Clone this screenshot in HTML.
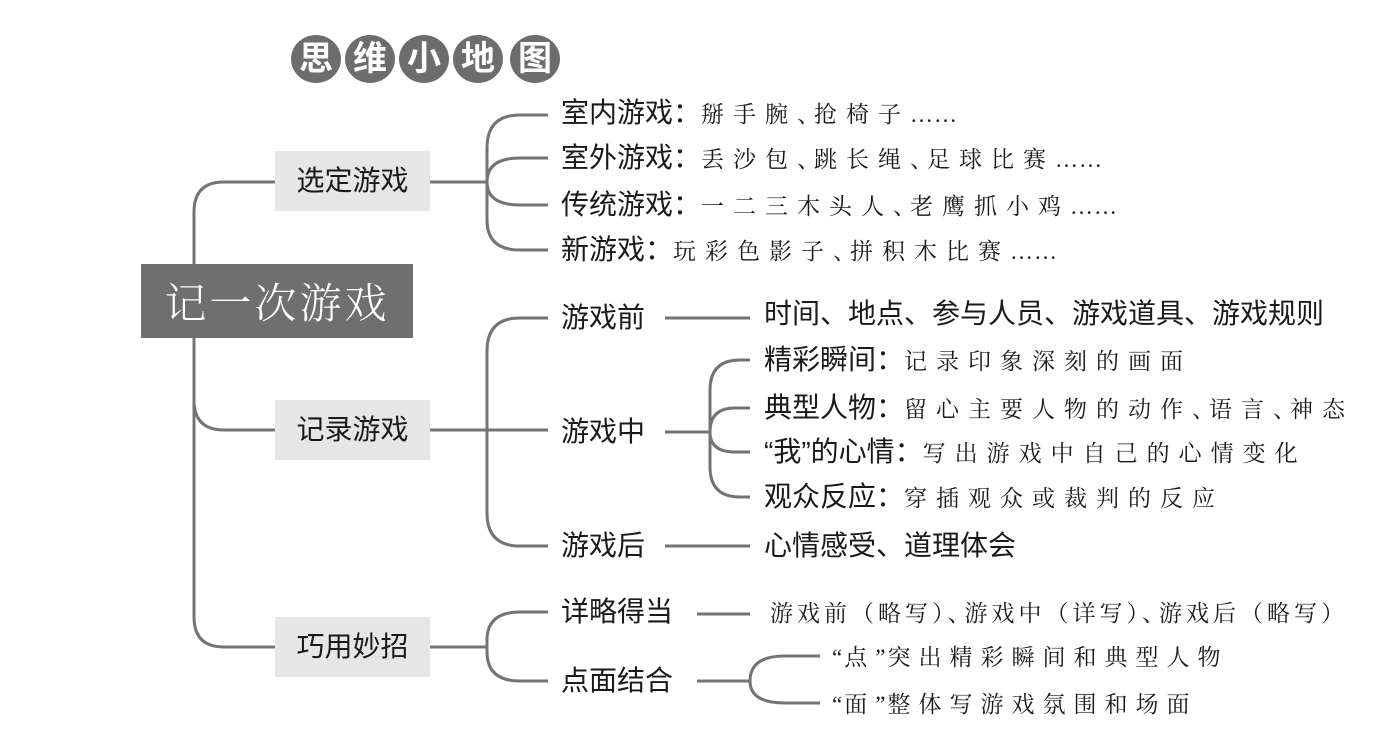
<!DOCTYPE html>
<html><head><meta charset="utf-8"><style>
body{margin:0;width:1388px;height:740px;background:#fff;position:relative;overflow:hidden;font-family:"Liberation Sans","Noto Sans CJK SC",sans-serif;color:#1a1a1a}
.t{position:absolute;white-space:nowrap;font-size:28px;line-height:30px;font-weight:400}
.s{font-family:"Noto Serif CJK SC",serif;font-size:23px;letter-spacing:9px;font-weight:400}
.p{letter-spacing:-6px}
.e{font-family:"Liberation Serif",serif;letter-spacing:1px}
.q{font-family:"Liberation Serif",serif;letter-spacing:2px}
.c{position:absolute;top:35px;width:50px;height:48px;border-radius:50%;background:#6d6d6d;color:#fff;font-size:34px;line-height:48px;text-align:center;font-weight:bold}
.box{position:absolute;background:#e6e6e6;width:155px;height:60px;left:275px;font-size:28px;line-height:60px;text-align:center;font-weight:400}
</style></head><body>
<svg width="1388" height="740" style="position:absolute;left:0;top:0" fill="none" stroke="#747474" stroke-width="3">
<path d="M194 264 V212 Q194 182 224 182 H275"/>
<path d="M194 338 V400 Q194 430 224 430 H275"/>
<path d="M194 338 V617 Q194 647 224 647 H275"/>
<path d="M430 182 H487"/>
<path d="M548 115 H520 Q487 115 487 148 V220 Q487 250 520 250 H548"/>
<path d="M487 182 Q487 158 520 158 H548"/>
<path d="M487 182 Q487 205 520 205 H548"/>
<path d="M430 430 H487"/>
<path d="M548 318 H520 Q487 318 487 351 V513 Q487 546 520 546 H548"/>
<path d="M487 430 H548"/>
<path d="M665 318 H750"/><path d="M665 432 H710"/><path d="M665 546 H750"/>
<path d="M750 360 H740 Q710 360 710 390 V467 Q710 497 740 497 H750"/>
<path d="M710 432 Q710 408 735 408 H750"/>
<path d="M710 432 Q710 452 735 452 H750"/>
<path d="M430 647 H487"/>
<path d="M548 612 H520 Q487 612 487 640 V652 Q487 681 520 681 H548"/>
<path d="M697 614 H750"/>
<path d="M697 681 H750"/>
<path d="M820 656 H785 Q750 656 750 681 Q750 703 785 703 H820"/>
</svg>
<div class="c" style="left:291px">思</div><div class="c" style="left:345px">维</div><div class="c" style="left:399px">小</div><div class="c" style="left:453px">地</div><div class="c" style="left:510px">图</div>
<div style="position:absolute;left:141px;top:264px;width:272px;height:74px;background:#6f6f6f;color:#fff;font-family:'Noto Serif CJK SC',serif;font-size:42px;line-height:74px;text-align:center;letter-spacing:3px;font-weight:300">记一次游戏</div>
<div class="box" style="top:151px">选定游戏</div>
<div class="box" style="top:400px">记录游戏</div>
<div class="box" style="top:617px">巧用妙招</div>
<div class="t" style="left:561px;top:98px">室内游戏：<span class="s">掰手腕<span class="p">、</span>抢椅子<span class="e">……</span></span></div>
<div class="t" style="left:561px;top:143px">室外游戏：<span class="s">丢沙包<span class="p">、</span>跳长绳<span class="p">、</span>足球比赛<span class="e">……</span></span></div>
<div class="t" style="left:561px;top:190px">传统游戏：<span class="s">一二三木头人<span class="p">、</span>老鹰抓小鸡<span class="e">……</span></span></div>
<div class="t" style="left:561px;top:235px">新游戏：<span class="s">玩彩色影子<span class="p">、</span>拼积木比赛<span class="e">……</span></span></div>
<div class="t" style="left:561px;top:303px">游戏前</div>
<div class="t" style="left:764px;top:299px">时间、地点、参与人员、游戏道具、游戏规则</div>
<div class="t" style="left:561px;top:417px">游戏中</div>
<div class="t" style="left:764px;top:345px">精彩瞬间：<span class="s">记录印象深刻的画面</span></div>
<div class="t" style="left:764px;top:393px">典型人物：<span class="s">留心主要人物的动作<span class="p">、</span>语言<span class="p">、</span>神态</span></div>
<div class="t" style="left:764px;top:437px">“我”的心情：<span class="s">写出游戏中自己的心情变化</span></div>
<div class="t" style="left:764px;top:482px">观众反应：<span class="s">穿插观众或裁判的反应</span></div>
<div class="t" style="left:561px;top:531px">游戏后</div>
<div class="t" style="left:764px;top:531px">心情感受、道理体会</div>
<div class="t" style="left:561px;top:597px">详略得当</div>
<div class="t s" style="left:770px;top:597px;letter-spacing:4px">游戏前（略写）<span class="p">、</span>游戏中（详写）<span class="p">、</span>游戏后（略写）</div>
<div class="t" style="left:561px;top:666px">点面结合</div>
<div class="t s" style="left:832px;top:641px;letter-spacing:8px"><span class="q">“</span>点<span class="q">”</span>突出精彩瞬间和典型人物</div>
<div class="t s" style="left:832px;top:688px;letter-spacing:8px"><span class="q">“</span>面<span class="q">”</span>整体写游戏氛围和场面</div>
</body></html>
